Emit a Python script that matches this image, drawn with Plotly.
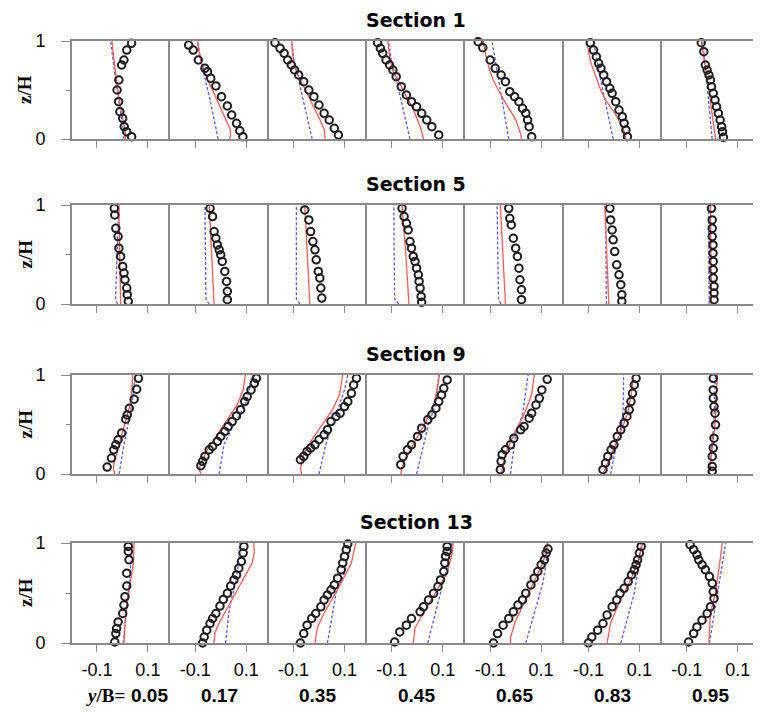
import plotly.graph_objects as go

# ---------------- data ----------------
SECTIONS = ["Section 1", "Section 5", "Section 9", "Section 13"]
YB_LABELS = ["0.05", "0.17", "0.35", "0.45", "0.65", "0.83", "0.95"]
X_TICKS = [-0.1, 0.1]
X_TICK_TEXT = ["-0.1", "0.1"]

# Section 1 -------------------------------------------------------------
S1_EXP_X = [
    [0.036, 0.017, 0.006, -0.003, -0.014, -0.021, -0.015, -0.010, 0.001, 0.007, 0.017, 0.036],
    [-0.126, -0.108, -0.088, -0.062, -0.052, -0.039, -0.019, 0.003, 0.026, 0.043, 0.062, 0.075, 0.087],
    [-0.173, -0.153, -0.137, -0.123, -0.109, -0.096, -0.080, -0.060, -0.040, -0.020, 0.000, 0.020, 0.040, 0.060, 0.076],
    [-0.156, -0.145, -0.136, -0.123, -0.109, -0.096, -0.083, -0.063, -0.043, -0.023, -0.003, 0.017, 0.037, 0.057, 0.084],
    [-0.147, -0.129, -0.100, -0.080, -0.057, -0.040, -0.023, -0.004, 0.013, 0.027, 0.040, 0.047, 0.053, 0.063],
    [-0.093, -0.080, -0.069, -0.060, -0.051, -0.040, -0.029, -0.016, -0.007, 0.007, 0.020, 0.033, 0.040, 0.047, 0.053],
    [-0.043, -0.033, -0.027, -0.020, -0.013, -0.007, -0.003, 0.004, 0.011, 0.017, 0.024, 0.031, 0.037, 0.040, 0.044],
]
S1_EXP_Z = [
    [0.976, 0.908, 0.806, 0.755, 0.602, 0.500, 0.381, 0.279, 0.211, 0.126, 0.075, 0.024],
    [0.959, 0.908, 0.806, 0.721, 0.687, 0.619, 0.541, 0.432, 0.337, 0.245, 0.160, 0.085, 0.024],
    [0.983, 0.925, 0.874, 0.806, 0.755, 0.704, 0.653, 0.585, 0.500, 0.432, 0.347, 0.262, 0.194, 0.109, 0.041],
    [0.983, 0.925, 0.874, 0.806, 0.755, 0.704, 0.636, 0.534, 0.449, 0.381, 0.330, 0.262, 0.194, 0.126, 0.041],
    [0.993, 0.932, 0.806, 0.721, 0.653, 0.585, 0.483, 0.432, 0.381, 0.313, 0.262, 0.194, 0.126, 0.024],
    [0.983, 0.908, 0.840, 0.772, 0.721, 0.653, 0.585, 0.517, 0.466, 0.381, 0.296, 0.228, 0.160, 0.092, 0.024],
    [0.983, 0.891, 0.755, 0.704, 0.653, 0.602, 0.534, 0.466, 0.398, 0.330, 0.262, 0.194, 0.126, 0.075, 0.017],
]
S1_RED_X = [
    [0.012, 0.010, 0.002, -0.006, -0.012, -0.018, -0.024, -0.028, -0.033, -0.037, -0.041],
    [0.035, 0.039, 0.037, 0.020, 0.004, -0.013, -0.032, -0.052, -0.066, -0.078, -0.086, -0.091],
    [0.024, 0.020, 0.003, -0.015, -0.033, -0.053, -0.073, -0.090, -0.100, -0.105, -0.107],
    [0.024, 0.015, 0.000, -0.016, -0.036, -0.056, -0.078, -0.096, -0.106, -0.112, -0.116],
    [0.023, 0.020, 0.000, -0.024, -0.047, -0.068, -0.087, -0.102, -0.113, -0.121, -0.127],
    [0.047, 0.037, 0.007, -0.033, -0.052, -0.067, -0.080, -0.093, -0.100, -0.107],
    [0.013, -0.013, -0.043],
]
S1_RED_Z = [
    [0, 0.1, 0.2, 0.3, 0.4, 0.5, 0.6, 0.7, 0.8, 0.9, 1.0],
    [0, 0.04, 0.1, 0.2, 0.3, 0.4, 0.5, 0.6, 0.7, 0.8, 0.9, 1.0],
    [0, 0.1, 0.2, 0.3, 0.4, 0.5, 0.6, 0.7, 0.8, 0.9, 1.0],
    [0, 0.1, 0.2, 0.3, 0.4, 0.5, 0.6, 0.7, 0.8, 0.9, 1.0],
    [0, 0.05, 0.2, 0.3, 0.4, 0.5, 0.6, 0.7, 0.8, 0.9, 1.0],
    [0, 0.1, 0.25, 0.4, 0.5, 0.6, 0.7, 0.8, 0.9, 1.0],
    [0, 0.5, 1.0],
]
S1_BLUE_X = [
    [0.005, 0.003, -0.003, -0.010, -0.016, -0.021, -0.027, -0.032, -0.037, -0.042, -0.046],
    [-0.010, -0.025, -0.042, -0.060, -0.078, -0.091],
    [-0.027, -0.045, -0.063, -0.082, -0.098, -0.107],
    [-0.029, -0.046, -0.063, -0.082, -0.102, -0.113],
    [-0.027, -0.040, -0.053, -0.068, -0.080, -0.093],
    [-0.003, -0.027, -0.045, -0.060, -0.080],
    [0.000, -0.018, -0.037],
]
S1_BLUE_Z = [
    [0, 0.1, 0.2, 0.3, 0.4, 0.5, 0.6, 0.7, 0.8, 0.9, 1.0],
    [0, 0.2, 0.4, 0.6, 0.8, 1.0],
    [0, 0.2, 0.4, 0.6, 0.8, 1.0],
    [0, 0.2, 0.4, 0.6, 0.8, 1.0],
    [0, 0.2, 0.4, 0.6, 0.8, 1.0],
    [0, 0.3, 0.5, 0.7, 1.0],
    [0, 0.5, 1.0],
]

# Section 5 -------------------------------------------------------------
S5_EXP_X = [
    [-0.032, -0.030, -0.026, -0.017, -0.014, -0.007, 0.001, 0.006, 0.010, 0.017, 0.019, 0.023],
    [-0.042, -0.032, -0.026, -0.019, -0.013, -0.006, 0.000, 0.006, 0.016, 0.023, 0.026, 0.026],
    [-0.056, -0.040, -0.033, -0.024, -0.016, -0.011, -0.003, 0.003, 0.007, 0.011],
    [-0.060, -0.052, -0.043, -0.036, -0.029, -0.023, -0.016, -0.009, -0.003, 0.004, 0.007, 0.011, 0.015, 0.017],
    [-0.027, -0.023, -0.017, -0.009, 0.000, 0.007, 0.013, 0.017, 0.023, 0.023],
    [-0.016, -0.013, -0.007, -0.003, 0.003, 0.011, 0.020, 0.027, 0.031, 0.031],
    [-0.003, 0.000, 0.000, 0.000, 0.003, 0.003, 0.004, 0.004, 0.004, 0.007, 0.007, 0.007],
]
S5_EXP_Z = [
    [0.966, 0.899, 0.765, 0.681, 0.564, 0.480, 0.379, 0.312, 0.245, 0.161, 0.094, 0.027],
    [0.966, 0.883, 0.732, 0.664, 0.597, 0.547, 0.497, 0.430, 0.329, 0.228, 0.128, 0.044],
    [0.950, 0.849, 0.732, 0.631, 0.547, 0.446, 0.329, 0.262, 0.161, 0.060],
    [0.966, 0.883, 0.815, 0.748, 0.631, 0.564, 0.480, 0.430, 0.362, 0.295, 0.228, 0.161, 0.077, 0.017],
    [0.966, 0.866, 0.799, 0.664, 0.564, 0.480, 0.362, 0.245, 0.144, 0.044],
    [0.966, 0.849, 0.748, 0.648, 0.530, 0.396, 0.295, 0.195, 0.094, 0.027],
    [0.966, 0.849, 0.765, 0.681, 0.597, 0.513, 0.430, 0.346, 0.262, 0.178, 0.111, 0.044],
]
S5_RED_X = [
    [-0.007, -0.010, -0.014],
    [-0.026, -0.035, -0.045],
    [-0.036, -0.045, -0.056],
    [-0.033, -0.045, -0.060],
    [-0.040, -0.050, -0.060],
    [-0.020, -0.028, -0.036],
    [-0.003, -0.005, -0.007],
]
S5_RED_Z = [[0, 0.5, 1.0]] * 7
S5_BLUE_X = [
    [-0.020, -0.027, -0.021, -0.014],
    [-0.045, -0.058, -0.060, -0.062],
    [-0.075, -0.089, -0.089, -0.089],
    [-0.073, -0.089, -0.091, -0.092],
    [-0.058, -0.067, -0.070, -0.073],
    [-0.029, -0.030, -0.031, -0.033],
    [-0.012, -0.012, -0.013, -0.014],
]
S5_BLUE_Z = [[0, 0.05, 0.5, 1.0]] * 7

# Section 9 -------------------------------------------------------------
S9_EXP_X = [
    [0.063, 0.056, 0.046, 0.027, 0.019, 0.013, -0.003, -0.017, -0.026, -0.034, -0.043, -0.060],
    [0.140, 0.132, 0.119, 0.104, 0.094, 0.078, 0.062, 0.045, 0.029, 0.016, 0.000, -0.013, -0.032, -0.045, -0.062, -0.071, -0.078],
    [0.147, 0.136, 0.127, 0.113, 0.100, 0.083, 0.067, 0.047, 0.033, 0.020, 0.000, -0.016, -0.033, -0.047, -0.060, -0.073],
    [0.117, 0.104, 0.095, 0.084, 0.073, 0.057, 0.041, 0.017, 0.001, -0.023, -0.039, -0.056, -0.065],
    [0.124, 0.103, 0.093, 0.080, 0.063, 0.053, 0.033, 0.020, -0.007, -0.020, -0.040, -0.053, -0.057, -0.060],
    [0.087, 0.080, 0.073, 0.067, 0.060, 0.051, 0.040, 0.027, 0.013, 0.000, -0.011, -0.024, -0.033, -0.043],
    [0.004, 0.004, 0.004, 0.007, 0.011, 0.013, 0.007, 0.004, 0.000, 0.000, 0.000],
]
S9_EXP_Z = [
    [0.966, 0.856, 0.755, 0.664, 0.597, 0.554, 0.413, 0.346, 0.295, 0.245, 0.161, 0.070],
    [0.966, 0.916, 0.849, 0.782, 0.732, 0.648, 0.587, 0.530, 0.480, 0.430, 0.379, 0.329, 0.279, 0.245, 0.178, 0.128, 0.084],
    [0.966, 0.899, 0.815, 0.732, 0.681, 0.614, 0.581, 0.530, 0.446, 0.396, 0.346, 0.295, 0.262, 0.228, 0.178, 0.144],
    [0.950, 0.866, 0.799, 0.732, 0.664, 0.597, 0.547, 0.463, 0.379, 0.295, 0.245, 0.178, 0.094],
    [0.956, 0.849, 0.765, 0.698, 0.614, 0.564, 0.480, 0.446, 0.362, 0.295, 0.245, 0.195, 0.128, 0.044],
    [0.966, 0.899, 0.815, 0.732, 0.648, 0.581, 0.513, 0.446, 0.379, 0.295, 0.245, 0.178, 0.111, 0.044],
    [0.966, 0.849, 0.765, 0.681, 0.614, 0.497, 0.362, 0.262, 0.178, 0.077, 0.027],
]
S9_RED_X = [
    [-0.030, -0.035, -0.034, -0.013, 0.010, 0.030, 0.037, 0.040],
    [-0.078, -0.085, -0.078, -0.052, -0.013, 0.026, 0.065, 0.088, 0.097],
    [-0.068, -0.073, -0.060, -0.027, 0.013, 0.053, 0.080, 0.093],
    [-0.065, -0.056, -0.016, 0.028, 0.064, 0.078, 0.087],
    [-0.057, -0.040, -0.007, 0.033, 0.063, 0.073],
    [-0.043, 0.007, 0.053, 0.068, 0.077],
    [-0.013, 0.011, 0.020],
]
S9_RED_Z = [
    [0, 0.05, 0.1, 0.3, 0.5, 0.7, 0.85, 1.0],
    [0, 0.05, 0.1, 0.25, 0.4, 0.55, 0.7, 0.85, 1.0],
    [0, 0.05, 0.2, 0.35, 0.5, 0.65, 0.8, 1.0],
    [0, 0.1, 0.3, 0.5, 0.7, 0.85, 1.0],
    [0, 0.2, 0.4, 0.6, 0.8, 1.0],
    [0, 0.3, 0.6, 0.8, 1.0],
    [0, 0.5, 1.0],
]
S9_BLUE_X = [
    [-0.013, 0.006, 0.030, 0.042, 0.050],
    [-0.006, 0.000, 0.013, 0.052, 0.097, 0.112, 0.123],
    [0.000, 0.027, 0.053, 0.080, 0.100, 0.113],
    [-0.003, 0.024, 0.044, 0.071, 0.084],
    [-0.020, 0.000, 0.027, 0.049],
    [-0.013, 0.010, 0.030, 0.036, 0.038],
    [-0.011, 0.006, 0.013],
]
S9_BLUE_Z = [
    [0, 0.3, 0.6, 0.8, 1.0],
    [0, 0.1, 0.3, 0.5, 0.7, 0.85, 1.0],
    [0, 0.3, 0.5, 0.7, 0.85, 1.0],
    [0, 0.3, 0.5, 0.7, 1.0],
    [0, 0.4, 0.6, 1.0],
    [0, 0.3, 0.5, 0.65, 1.0],
    [0, 0.5, 1.0],
]

# Section 13 ------------------------------------------------------------
S13_EXP_X = [
    [0.023, 0.023, 0.026, 0.017, 0.017, 0.010, 0.006, 0.001, -0.017, -0.023, -0.026, -0.030],
    [0.091, 0.088, 0.081, 0.071, 0.062, 0.052, 0.039, 0.026, 0.010, -0.003, -0.019, -0.032, -0.042, -0.055, -0.065, -0.071],
    [0.113, 0.107, 0.100, 0.093, 0.087, 0.073, 0.060, 0.047, 0.033, 0.020, 0.007, -0.013, -0.029, -0.047, -0.060, -0.073],
    [0.117, 0.117, 0.111, 0.108, 0.104, 0.091, 0.081, 0.064, 0.044, 0.024, 0.011, -0.023, -0.043, -0.069, -0.089],
    [0.127, 0.120, 0.113, 0.100, 0.087, 0.073, 0.060, 0.040, 0.027, 0.009, -0.009, -0.027, -0.049, -0.071, -0.087],
    [0.107, 0.100, 0.093, 0.087, 0.080, 0.069, 0.056, 0.040, 0.024, 0.011, -0.007, -0.027, -0.043, -0.064, -0.087, -0.100],
    [-0.087, -0.073, -0.060, -0.053, -0.040, -0.027, -0.011, 0.000, 0.004, 0.007, -0.007, -0.020, -0.040, -0.060, -0.073, -0.093],
]
S13_EXP_Z = [
    [0.966, 0.916, 0.832, 0.698, 0.570, 0.463, 0.379, 0.295, 0.211, 0.144, 0.094, 0.010],
    [0.966, 0.899, 0.815, 0.748, 0.681, 0.631, 0.570, 0.497, 0.436, 0.369, 0.295, 0.245, 0.195, 0.128, 0.060, 0.000],
    [0.990, 0.933, 0.866, 0.799, 0.732, 0.648, 0.581, 0.530, 0.480, 0.430, 0.362, 0.295, 0.245, 0.178, 0.094, 0.000],
    [0.966, 0.916, 0.866, 0.799, 0.715, 0.631, 0.564, 0.497, 0.430, 0.362, 0.312, 0.245, 0.178, 0.111, 0.010],
    [0.940, 0.899, 0.832, 0.782, 0.715, 0.648, 0.581, 0.497, 0.430, 0.379, 0.312, 0.245, 0.178, 0.094, 0.000],
    [0.966, 0.899, 0.832, 0.782, 0.732, 0.681, 0.614, 0.547, 0.497, 0.430, 0.362, 0.279, 0.195, 0.128, 0.060, 0.000],
    [0.983, 0.933, 0.883, 0.832, 0.782, 0.732, 0.664, 0.597, 0.513, 0.446, 0.362, 0.295, 0.228, 0.161, 0.094, 0.010],
]
S13_RED_X = [
    [0.006, 0.010, 0.019, 0.030, 0.043, 0.046],
    [-0.026, -0.023, -0.006, 0.026, 0.058, 0.091, 0.123, 0.132, 0.130],
    [-0.016, -0.007, 0.020, 0.053, 0.087, 0.127, 0.144],
    [-0.016, -0.009, 0.024, 0.071, 0.117, 0.137, 0.140],
    [-0.020, -0.020, -0.004, 0.033, 0.073, 0.107, 0.127],
    [-0.027, -0.013, 0.020, 0.060, 0.093, 0.113],
    [-0.013, -0.007, 0.013, 0.040],
]
S13_RED_Z = [
    [0, 0.2, 0.4, 0.6, 0.8, 1.0],
    [0, 0.1, 0.2, 0.35, 0.5, 0.65, 0.8, 0.9, 1.0],
    [0, 0.15, 0.3, 0.45, 0.6, 0.8, 1.0],
    [0, 0.15, 0.3, 0.5, 0.7, 0.9, 1.0],
    [0, 0.05, 0.2, 0.4, 0.6, 0.8, 1.0],
    [0, 0.2, 0.4, 0.6, 0.8, 1.0],
    [0, 0.3, 0.5, 1.0],
]
S13_BLUE_X = [
    [0.003, 0.023, 0.040],
    [0.019, 0.032, 0.043, 0.058, 0.071, 0.075],
    [0.033, 0.053, 0.067, 0.100, 0.127],
    [0.041, 0.071, 0.091, 0.111, 0.137],
    [0.040, 0.073, 0.107, 0.120, 0.124],
    [0.027, 0.060, 0.080, 0.093, 0.107],
    [-0.011, 0.020, 0.053],
]
S13_BLUE_Z = [
    [0, 0.5, 1.0],
    [0, 0.3, 0.45, 0.6, 0.8, 1.0],
    [0, 0.3, 0.5, 0.7, 1.0],
    [0, 0.3, 0.5, 0.7, 1.0],
    [0, 0.3, 0.6, 0.8, 1.0],
    [0, 0.3, 0.5, 0.7, 1.0],
    [0, 0.5, 1.0],
]

SECTION_DATA = [
    (S1_EXP_X, S1_EXP_Z, S1_RED_X, S1_RED_Z, S1_BLUE_X, S1_BLUE_Z),
    (S5_EXP_X, S5_EXP_Z, S5_RED_X, S5_RED_Z, S5_BLUE_X, S5_BLUE_Z),
    (S9_EXP_X, S9_EXP_Z, S9_RED_X, S9_RED_Z, S9_BLUE_X, S9_BLUE_Z),
    (S13_EXP_X, S13_EXP_Z, S13_RED_X, S13_RED_Z, S13_BLUE_X, S13_BLUE_Z),
]

# ---------------- layout geometry ----------------
PAGE_MARGIN = 8  # browser body margin around the plot div
W, H = 761 - PAGE_MARGIN, 712 - PAGE_MARGIN
COL_LEFT = 72.0 - PAGE_MARGIN
COL_W = 98.3
ROWS = [(41, 139), (205, 304), (375, 474), (543, 643)]  # page px (top, bottom)
X_RANGE = [-0.198, 0.188]
GRAY = "#8a8a8a"
RED = "#ff5c5c"
BLUE = "#5c5cff"


def px_x(p):
    return (p - PAGE_MARGIN) / W


def px_y(p):
    return 1 - (p - PAGE_MARGIN) / H


fig = go.Figure()
layout = dict(
    width=W, height=H, margin=dict(l=0, r=0, t=0, b=0, autoexpand=False),
    paper_bgcolor="white", plot_bgcolor="white", showlegend=False,
    font=dict(family="Liberation Sans, Arial", color="black"),
)
annotations = []

n = 0
for r, (top, bot) in enumerate(ROWS):
    ex, ez, rx, rz, bx, bz = SECTION_DATA[r]
    for c in range(7):
        n += 1
        xa = "xaxis" if n == 1 else f"xaxis{n}"
        ya = "yaxis" if n == 1 else f"yaxis{n}"
        xr = "x" if n == 1 else f"x{n}"
        yr = "y" if n == 1 else f"y{n}"
        x0 = (COL_LEFT + c * COL_W) / W
        x1 = (COL_LEFT + (c + 1) * COL_W) / W
        layout[xa] = dict(
            domain=[x0, min(x1, 1.0)], range=X_RANGE, anchor=yr, automargin=False,
            showgrid=False, zeroline=False,
            showline=True, linecolor=GRAY, linewidth=1.8, mirror=True,
            ticks="outside", tickvals=X_TICKS, ticktext=X_TICK_TEXT,
            ticklen=7, tickwidth=1.4, tickcolor=GRAY,
            showticklabels=(r == 3), tickfont=dict(size=18, color="black"),
            ticklabelstandoff=2,
        )
        ydict = dict(
            domain=[px_y(bot), px_y(top)], range=[0, 1], anchor=xr,
            automargin=False, showgrid=False, zeroline=False,
            showline=True, linecolor=GRAY, linewidth=1.8, mirror=(c == 6),
        )
        if c == 0:
            ydict.update(
                ticks="outside", tickvals=[0, 1], ticktext=["0", "1"],
                ticklen=9, tickwidth=1.4, tickcolor=GRAY,
                tickfont=dict(size=18, color="black"), ticklabelstandoff=12,
                minor=dict(tickvals=[0.5], ticklen=4, tickwidth=1.2,
                           tickcolor=GRAY, ticks="outside"),
            )
        else:
            ydict.update(ticks="", showticklabels=False)
        layout[ya] = ydict

        fig.add_trace(go.Scatter(
            x=bx[c], y=bz[c], mode="lines", xaxis=xr, yaxis=yr,
            line=dict(color=BLUE, width=1.3, dash="3px,2px"),
        ))
        fig.add_trace(go.Scatter(
            x=rx[c], y=rz[c], mode="lines", xaxis=xr, yaxis=yr,
            line=dict(color=RED, width=1.3),
        ))
        fig.add_trace(go.Scatter(
            x=ex[c], y=ez[c], mode="markers", xaxis=xr, yaxis=yr,
            cliponaxis=False,
            marker=dict(symbol="circle-open", size=7.5, color="#1e1e1e",
                        line=dict(width=2, color="#1e1e1e")),
        ))

    # section title
    annotations.append(dict(
        text=SECTIONS[r], xref="paper", yref="paper",
        x=(COL_LEFT + 3.5 * COL_W) / W, y=px_y(top - 21),
        showarrow=False, xanchor="center", yanchor="middle",
        font=dict(family="DejaVu Sans", size=19, color="black", weight="bold"),
    ))
    # z/H label
    annotations.append(dict(
        text="z/H", xref="paper", yref="paper",
        x=px_x(25), y=px_y((top + bot) / 2), textangle=-90,
        showarrow=False, xanchor="center", yanchor="middle",
        font=dict(family="Liberation Serif, Times New Roman", size=19,
                  color="black", weight="bold"),
    ))

# bottom y/B labels
for c, lab in enumerate(YB_LABELS):
    cx = COL_LEFT + (c + 0.5) * COL_W
    if c == 0:
        annotations.append(dict(
            text="<i>y</i>/B=", xref="paper", yref="paper",
            x=px_x(127), y=px_y(695), showarrow=False,
            xanchor="right", yanchor="middle",
            font=dict(family="Liberation Serif, Times New Roman", size=19,
                      color="black", weight="bold"),
        ))
        annotations.append(dict(
            text=lab, xref="paper", yref="paper",
            x=px_x(129), y=px_y(695), showarrow=False,
            xanchor="left", yanchor="middle",
            font=dict(size=19, color="black", weight="bold"),
        ))
    else:
        annotations.append(dict(
            text=lab, xref="paper", yref="paper",
            x=cx / W, y=px_y(695), showarrow=False,
            xanchor="center", yanchor="middle",
            font=dict(size=19, color="black", weight="bold"),
        ))

layout["annotations"] = annotations
fig.update_layout(**layout)
fig.write_html("out.html")
